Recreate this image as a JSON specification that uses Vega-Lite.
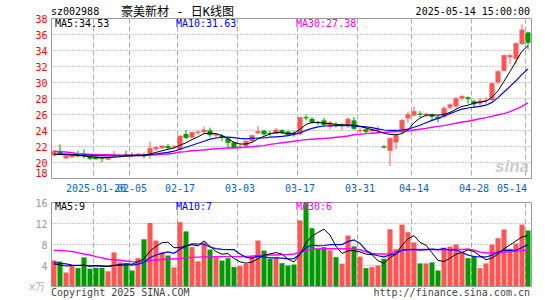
{
"$schema": "https://vega.github.io/schema/vega-lite/v6.json",
"background": "white",
"autosize": {"type": "pad"},
"padding": {"left": 28, "top": 5, "right": 0, "bottom": 0},
"bounds": "flush",
"spacing": 24,
"config": {"view": {"stroke": "#999999", "strokeWidth": 1}, "text": {"font": "DejaVu Sans Mono", "fontSize": 10}},
"datasets": {"k": [
{"date":"2025-01-09","open":20.85,"high":21.55,"low":20.65,"close":21.3,"volume":4.86,"ma5":20.9,"ma10":20.95,"ma30":21.35,"vma5":4.2,"vma10":4.5,"vma30":6.76},
{"date":"2025-01-10","open":21.4,"high":22.2,"low":21.0,"close":21.1,"volume":4.67,"ma5":21.0,"ma10":20.95,"ma30":21.3,"vma5":4.0,"vma10":4.3,"vma30":6.75},
{"date":"2025-01-13","open":20.45,"high":20.8,"low":20.4,"close":20.7,"volume":2.57,"ma5":21.0,"ma10":20.9,"ma30":21.25,"vma5":3.8,"vma10":4.2,"vma30":6.7},
{"date":"2025-01-14","open":20.6,"high":21.0,"low":20.55,"close":20.9,"volume":4.0,"ma5":20.95,"ma10":20.9,"ma30":21.15,"vma5":3.9,"vma10":4.0,"vma30":6.57},
{"date":"2025-01-15","open":20.95,"high":21.4,"low":20.6,"close":20.75,"volume":3.4,"ma5":20.85,"ma10":20.85,"ma30":21.05,"vma5":3.9,"vma10":3.95,"vma30":6.35},
{"date":"2025-01-16","open":21.0,"high":21.6,"low":20.45,"close":20.75,"volume":5.45,"ma5":20.75,"ma10":20.85,"ma30":21.0,"vma5":4.0,"vma10":3.9,"vma30":6.1},
{"date":"2025-01-17","open":20.7,"high":20.8,"low":20.25,"close":20.45,"volume":3.3,"ma5":20.65,"ma10":20.85,"ma30":20.95,"vma5":3.75,"vma10":3.85,"vma30":5.9},
{"date":"2025-01-20","open":20.65,"high":20.75,"low":20.3,"close":20.4,"volume":3.45,"ma5":20.6,"ma10":20.8,"ma30":20.95,"vma5":3.9,"vma10":3.85,"vma30":5.6},
{"date":"2025-01-21","open":20.55,"high":20.65,"low":20.0,"close":20.45,"volume":3.45,"ma5":20.55,"ma10":20.8,"ma30":20.9,"vma5":3.8,"vma10":3.8,"vma30":5.35},
{"date":"2025-01-22","open":20.3,"high":20.65,"low":20.25,"close":20.55,"volume":2.8,"ma5":20.55,"ma10":20.75,"ma30":20.9,"vma5":3.7,"vma10":3.8,"vma30":5.1},
{"date":"2025-01-23","open":20.75,"high":21.4,"low":20.6,"close":20.95,"volume":6.4,"ma5":20.6,"ma10":20.75,"ma30":20.85,"vma5":3.9,"vma10":3.95,"vma30":5.0},
{"date":"2025-01-24","open":20.75,"high":21.0,"low":20.6,"close":20.85,"volume":4.5,"ma5":20.65,"ma10":20.75,"ma30":20.85,"vma5":4.1,"vma10":3.93,"vma30":4.9},
{"date":"2025-01-27","open":21.0,"high":21.4,"low":20.7,"close":20.85,"volume":4.05,"ma5":20.75,"ma10":20.75,"ma30":20.85,"vma5":4.25,"vma10":4.08,"vma30":4.75},
{"date":"2025-02-05","open":20.95,"high":21.2,"low":20.65,"close":20.85,"volume":2.95,"ma5":20.8,"ma10":20.75,"ma30":20.85,"vma5":4.15,"vma10":3.98,"vma30":4.65},
{"date":"2025-02-06","open":20.8,"high":21.1,"low":20.7,"close":21.0,"volume":5.3,"ma5":20.85,"ma10":20.8,"ma30":20.85,"vma5":4.65,"vma10":4.18,"vma30":4.6},
{"date":"2025-02-07","open":21.0,"high":21.15,"low":20.45,"close":20.8,"volume":8.9,"ma5":20.85,"ma10":20.8,"ma30":20.85,"vma5":5.15,"vma10":4.53,"vma30":4.65},
{"date":"2025-02-10","open":20.95,"high":22.5,"low":20.4,"close":21.7,"volume":12.0,"ma5":21.0,"ma10":20.9,"ma30":20.9,"vma5":6.65,"vma10":5.38,"vma30":4.8},
{"date":"2025-02-11","open":21.6,"high":22.0,"low":21.4,"close":21.8,"volume":8.65,"ma5":21.2,"ma10":21.0,"ma30":20.9,"vma5":7.55,"vma10":5.9,"vma30":4.95},
{"date":"2025-02-12","open":21.75,"high":22.05,"low":21.55,"close":22.0,"volume":6.4,"ma5":21.4,"ma10":21.1,"ma30":20.95,"vma5":8.25,"vma10":6.2,"vma30":5.05},
{"date":"2025-02-13","open":22.0,"high":22.25,"low":21.55,"close":21.8,"volume":5.8,"ma5":21.6,"ma10":21.2,"ma30":21.0,"vma5":8.35,"vma10":6.5,"vma30":5.15},
{"date":"2025-02-14","open":21.85,"high":22.1,"low":21.7,"close":21.95,"volume":3.55,"ma5":21.75,"ma10":21.35,"ma30":21.1,"vma5":7.3,"vma10":6.23,"vma30":5.15},
{"date":"2025-02-17","open":21.55,"high":23.3,"low":21.5,"close":23.25,"volume":12.15,"ma5":22.1,"ma10":21.6,"ma30":21.25,"vma5":7.3,"vma10":6.98,"vma30":5.25},
{"date":"2025-02-18","open":23.5,"high":24.0,"low":22.85,"close":23.05,"volume":10.4,"ma5":22.4,"ma10":21.85,"ma30":21.3,"vma5":7.65,"vma10":7.6,"vma30":5.35},
{"date":"2025-02-19","open":23.05,"high":23.75,"low":22.95,"close":23.7,"volume":7.4,"ma5":22.8,"ma10":22.1,"ma30":21.4,"vma5":7.85,"vma10":8.05,"vma30":5.45},
{"date":"2025-02-20","open":23.65,"high":24.0,"low":23.4,"close":23.75,"volume":4.7,"ma5":23.15,"ma10":22.35,"ma30":21.45,"vma5":7.65,"vma10":8.0,"vma30":5.5},
{"date":"2025-02-21","open":23.75,"high":24.4,"low":23.55,"close":24.0,"volume":8.3,"ma5":23.55,"ma10":22.6,"ma30":21.5,"vma5":8.6,"vma10":7.95,"vma30":5.55},
{"date":"2025-02-24","open":23.95,"high":24.3,"low":23.1,"close":23.4,"volume":6.95,"ma5":23.6,"ma10":22.85,"ma30":21.6,"vma5":7.55,"vma10":7.43,"vma30":5.55},
{"date":"2025-02-25","open":23.3,"high":23.6,"low":22.95,"close":23.45,"volume":5.5,"ma5":23.55,"ma10":23.0,"ma30":21.65,"vma5":6.57,"vma10":7.11,"vma30":5.6},
{"date":"2025-02-26","open":23.3,"high":23.5,"low":22.6,"close":23.1,"volume":4.85,"ma5":23.3,"ma10":23.1,"ma30":21.7,"vma5":6.06,"vma10":6.96,"vma30":5.6},
{"date":"2025-02-27","open":22.95,"high":23.1,"low":21.75,"close":22.45,"volume":5.3,"ma5":22.9,"ma10":23.1,"ma30":21.75,"vma5":6.18,"vma10":6.92,"vma30":5.6},
{"date":"2025-02-28","open":22.45,"high":22.55,"low":21.7,"close":21.8,"volume":3.6,"ma5":22.45,"ma10":23.05,"ma30":21.75,"vma5":5.24,"vma10":6.92,"vma30":5.6},
{"date":"2025-03-03","open":21.8,"high":22.3,"low":21.7,"close":21.9,"volume":3.8,"ma5":22.25,"ma10":22.95,"ma30":21.8,"vma5":4.61,"vma10":6.08,"vma30":5.6},
{"date":"2025-03-04","open":22.0,"high":22.65,"low":21.8,"close":22.6,"volume":4.2,"ma5":22.25,"ma10":22.9,"ma30":21.85,"vma5":4.35,"vma10":5.46,"vma30":5.65},
{"date":"2025-03-05","open":22.6,"high":23.35,"low":22.55,"close":23.3,"volume":5.8,"ma5":22.45,"ma10":22.95,"ma30":21.9,"vma5":4.54,"vma10":5.3,"vma30":5.7},
{"date":"2025-03-06","open":23.6,"high":24.5,"low":23.5,"close":23.8,"volume":8.67,"ma5":22.9,"ma10":23.0,"ma30":22.0,"vma5":5.21,"vma10":5.7,"vma30":5.8},
{"date":"2025-03-07","open":23.9,"high":24.05,"low":23.3,"close":23.5,"volume":6.76,"ma5":23.2,"ma10":23.0,"ma30":22.05,"vma5":5.85,"vma10":5.55,"vma30":5.85},
{"date":"2025-03-10","open":23.65,"high":23.9,"low":23.3,"close":23.55,"volume":5.17,"ma5":23.5,"ma10":23.1,"ma30":22.2,"vma5":6.12,"vma10":5.37,"vma30":5.9},
{"date":"2025-03-11","open":23.5,"high":24.25,"low":23.45,"close":24.0,"volume":5.4,"ma5":23.7,"ma10":23.15,"ma30":22.3,"vma5":6.36,"vma10":5.36,"vma30":5.9},
{"date":"2025-03-12","open":24.0,"high":24.1,"low":23.5,"close":23.7,"volume":4.35,"ma5":23.65,"ma10":23.2,"ma30":22.4,"vma5":6.07,"vma10":5.31,"vma30":5.95},
{"date":"2025-03-13","open":23.8,"high":23.95,"low":23.2,"close":23.4,"volume":3.9,"ma5":23.55,"ma10":23.3,"ma30":22.5,"vma5":5.12,"vma10":5.17,"vma30":6.0},
{"date":"2025-03-14","open":23.6,"high":23.9,"low":23.15,"close":23.5,"volume":4.1,"ma5":23.6,"ma10":23.45,"ma30":22.6,"vma5":4.58,"vma10":5.22,"vma30":6.1},
{"date":"2025-03-17","open":23.45,"high":25.6,"low":23.35,"close":25.55,"volume":12.5,"ma5":24.1,"ma10":23.65,"ma30":22.7,"vma5":6.05,"vma10":6.09,"vma30":6.4},
{"date":"2025-03-18","open":25.6,"high":25.9,"low":25.2,"close":25.5,"volume":16.0,"ma5":24.7,"ma10":23.95,"ma30":22.8,"vma5":8.21,"vma10":7.29,"vma30":6.8},
{"date":"2025-03-19","open":25.4,"high":25.6,"low":24.75,"close":25.0,"volume":11.0,"ma5":24.95,"ma10":24.2,"ma30":22.85,"vma5":9.54,"vma10":7.81,"vma30":7.0},
{"date":"2025-03-20","open":25.0,"high":25.15,"low":24.6,"close":24.9,"volume":7.1,"ma5":24.95,"ma10":24.4,"ma30":22.9,"vma5":10.18,"vma10":7.65,"vma30":7.05},
{"date":"2025-03-21","open":25.2,"high":25.5,"low":24.35,"close":24.65,"volume":7.4,"ma5":24.85,"ma10":24.5,"ma30":22.95,"vma5":10.84,"vma10":7.71,"vma30":7.1},
{"date":"2025-03-24","open":24.45,"high":25.1,"low":24.1,"close":24.9,"volume":6.8,"ma5":24.8,"ma10":24.5,"ma30":23.0,"vma5":9.7,"vma10":7.88,"vma30":7.1},
{"date":"2025-03-25","open":24.75,"high":25.0,"low":24.3,"close":24.65,"volume":5.5,"ma5":24.7,"ma10":24.55,"ma30":23.1,"vma5":7.56,"vma10":7.89,"vma30":7.1},
{"date":"2025-03-26","open":24.5,"high":24.85,"low":24.0,"close":24.6,"volume":4.25,"ma5":24.65,"ma10":24.55,"ma30":23.15,"vma5":6.21,"vma10":7.88,"vma30":7.1},
{"date":"2025-03-27","open":24.7,"high":25.6,"low":24.25,"close":25.35,"volume":9.6,"ma5":24.65,"ma10":24.55,"ma30":23.25,"vma5":6.71,"vma10":8.45,"vma30":7.1},
{"date":"2025-03-28","open":25.2,"high":25.6,"low":24.0,"close":24.2,"volume":7.55,"ma5":24.6,"ma10":24.5,"ma30":23.4,"vma5":6.74,"vma10":8.79,"vma30":7.05},
{"date":"2025-03-31","open":23.85,"high":24.3,"low":23.3,"close":23.95,"volume":5.6,"ma5":24.45,"ma10":24.45,"ma30":23.45,"vma5":6.5,"vma10":8.1,"vma30":6.9},
{"date":"2025-04-01","open":24.1,"high":24.2,"low":23.6,"close":23.8,"volume":3.4,"ma5":24.25,"ma10":24.4,"ma30":23.55,"vma5":6.08,"vma10":6.82,"vma30":6.5},
{"date":"2025-04-02","open":23.85,"high":24.15,"low":23.75,"close":24.05,"volume":3.6,"ma5":24.05,"ma10":24.3,"ma30":23.6,"vma5":5.95,"vma10":6.08,"vma30":6.2},
{"date":"2025-04-03","open":23.95,"high":24.5,"low":23.75,"close":24.05,"volume":3.9,"ma5":23.85,"ma10":24.15,"ma30":23.65,"vma5":4.81,"vma10":5.76,"vma30":6.1},
{"date":"2025-04-07","open":21.95,"high":22.1,"low":21.7,"close":21.85,"volume":5.2,"ma5":23.6,"ma10":24.0,"ma30":23.7,"vma5":4.34,"vma10":5.54,"vma30":6.1},
{"date":"2025-04-08","open":21.4,"high":23.05,"low":19.5,"close":22.95,"volume":10.8,"ma5":23.45,"ma10":23.95,"ma30":23.75,"vma5":5.38,"vma10":5.94,"vma30":6.15},
{"date":"2025-04-09","open":22.45,"high":23.5,"low":21.6,"close":23.3,"volume":7.0,"ma5":23.4,"ma10":23.95,"ma30":23.8,"vma5":6.1,"vma10":6.09,"vma30":6.5},
{"date":"2025-04-10","open":23.7,"high":25.35,"low":23.5,"close":25.2,"volume":11.7,"ma5":23.55,"ma10":24.0,"ma30":23.85,"vma5":7.72,"vma10":6.84,"vma30":6.8},
{"date":"2025-04-11","open":25.45,"high":26.3,"low":24.9,"close":25.9,"volume":10.25,"ma5":24.0,"ma10":24.1,"ma30":23.9,"vma5":8.99,"vma10":6.9,"vma30":6.95},
{"date":"2025-04-14","open":25.8,"high":26.9,"low":25.7,"close":26.3,"volume":8.3,"ma5":24.9,"ma10":24.35,"ma30":24.0,"vma5":9.61,"vma10":6.98,"vma30":6.95},
{"date":"2025-04-15","open":26.05,"high":26.35,"low":25.6,"close":25.95,"volume":4.3,"ma5":25.5,"ma10":24.6,"ma30":24.1,"vma5":8.31,"vma10":6.85,"vma30":6.95},
{"date":"2025-04-16","open":25.9,"high":26.1,"low":25.6,"close":26.0,"volume":4.3,"ma5":25.85,"ma10":24.9,"ma30":24.2,"vma5":7.77,"vma10":6.94,"vma30":6.95},
{"date":"2025-04-17","open":25.9,"high":26.05,"low":25.2,"close":25.7,"volume":4.5,"ma5":25.9,"ma10":25.2,"ma30":24.35,"vma5":6.33,"vma10":7.03,"vma30":6.95},
{"date":"2025-04-18","open":25.65,"high":25.8,"low":24.95,"close":25.45,"volume":2.95,"ma5":25.85,"ma10":25.45,"ma30":24.45,"vma5":4.87,"vma10":6.93,"vma30":6.9},
{"date":"2025-04-21","open":25.65,"high":27.0,"low":25.5,"close":26.7,"volume":7.3,"ma5":25.95,"ma10":25.75,"ma30":24.55,"vma5":4.67,"vma10":7.14,"vma30":6.9},
{"date":"2025-04-22","open":26.8,"high":27.3,"low":26.6,"close":27.15,"volume":7.5,"ma5":26.2,"ma10":26.05,"ma30":24.7,"vma5":5.31,"vma10":6.81,"vma30":6.9},
{"date":"2025-04-23","open":26.95,"high":28.15,"low":26.7,"close":27.9,"volume":7.9,"ma5":26.6,"ma10":26.35,"ma30":24.85,"vma5":6.03,"vma10":6.9,"vma30":6.95},
{"date":"2025-04-24","open":27.95,"high":28.35,"low":27.65,"close":28.2,"volume":6.4,"ma5":26.95,"ma10":26.6,"ma30":25.0,"vma5":6.41,"vma10":6.37,"vma30":6.95},
{"date":"2025-04-25","open":28.1,"high":28.2,"low":27.3,"close":27.9,"volume":5.3,"ma5":27.1,"ma10":26.75,"ma30":25.1,"vma5":6.88,"vma10":5.88,"vma30":7.05},
{"date":"2025-04-28","open":27.6,"high":27.8,"low":26.85,"close":27.25,"volume":5.7,"ma5":27.35,"ma10":26.85,"ma30":25.25,"vma5":6.56,"vma10":5.62,"vma30":6.8},
{"date":"2025-04-29","open":27.3,"high":28.0,"low":27.0,"close":27.6,"volume":3.4,"ma5":27.5,"ma10":26.95,"ma30":25.4,"vma5":5.74,"vma10":5.53,"vma30":6.45},
{"date":"2025-04-30","open":27.6,"high":28.1,"low":27.3,"close":27.7,"volume":4.3,"ma5":27.6,"ma10":27.1,"ma30":25.55,"vma5":5.02,"vma10":5.53,"vma30":6.3},
{"date":"2025-05-06","open":27.75,"high":29.95,"low":27.6,"close":29.8,"volume":7.9,"ma5":28.1,"ma10":27.45,"ma30":25.7,"vma5":5.32,"vma10":5.87,"vma30":6.3},
{"date":"2025-05-07","open":29.95,"high":31.45,"low":29.75,"close":31.3,"volume":9.1,"ma5":28.9,"ma10":28.05,"ma30":25.9,"vma5":6.08,"vma10":6.48,"vma30":6.3},
{"date":"2025-05-08","open":31.4,"high":33.4,"low":31.3,"close":33.3,"volume":10.76,"ma5":30.1,"ma10":28.75,"ma30":26.05,"vma5":7.09,"vma10":6.83,"vma30":6.45},
{"date":"2025-05-09","open":33.1,"high":33.55,"low":32.2,"close":33.3,"volume":7.1,"ma5":31.3,"ma10":29.45,"ma30":26.3,"vma5":7.83,"vma10":6.79,"vma30":6.55},
{"date":"2025-05-12","open":32.9,"high":34.95,"low":32.2,"close":34.8,"volume":8.1,"ma5":32.6,"ma10":30.15,"ma30":26.6,"vma5":8.59,"vma10":6.81,"vma30":6.6},
{"date":"2025-05-13","open":34.75,"high":37.2,"low":34.6,"close":36.5,"volume":11.7,"ma5":33.85,"ma10":30.95,"ma30":26.95,"vma5":9.35,"vma10":7.34,"vma30":6.75},
{"date":"2025-05-14","open":36.2,"high":36.3,"low":34.1,"close":34.95,"volume":10.57,"ma5":34.53,"ma10":31.63,"ma30":27.38,"vma5":9.65,"vma10":7.87,"vma30":6.88}
]},
"vconcat": [
{
"width": 480, "height": 160,
"data": {"name": "k"},
"layer": [
{"mark": {"type": "rule", "strokeWidth": 1},
 "encoding": {
  "x": {"field": "date", "type": "ordinal", "title": null, "scale": {"paddingInner": 0, "paddingOuter": 0},
   "axis": {"values": ["2025-01-20","2025-02-05","2025-02-17","2025-03-03","2025-03-17","2025-03-31","2025-04-14","2025-04-28","2025-05-14"],
    "labelExpr": "datum.value == '2025-01-20' ? datum.value : slice(datum.value, 5)",
    "bandPosition": 0, "labelAngle": 0, "labelColor": "#0066CC", "labelFont": "DejaVu Sans Mono", "labelFontSize": 10,
    "labelPadding": 5, "labelOverlap": false, "labelFlush": false,
    "labelOffset": {"condition": {"test": "datum.value == '2025-05-14'", "value": -16}, "value": 0},
    "ticks": false, "domain": false,
    "grid": true, "gridDash": [5, 3], "gridColor": "#aaaaaa", "gridWidth": 1}},
  "y": {"field": "low", "type": "quantitative", "title": null, "scale": {"domain": [18, 38], "nice": false, "zero": false},
   "axis": {"values": [18,20,22,24,26,28,30,32,34,36,38], "tickCount": 20, "labelColor": "#FF0000", "labelFont": "DejaVu Sans Mono", "labelFontSize": 10,
    "labelPadding": 4, "labelOverlap": false, "ticks": false, "domain": false, "grid": true, "gridDash": [1, 2], "gridColor": "#999999",
    "labelOffset": {"condition": {"test": "datum.value == 18", "value": -5}, "value": 1}}},
  "y2": {"field": "high"},
  "color": {"condition": {"test": "datum.close >= datum.open", "value": "#FF5555"}, "value": "#009900"}
 }},
{"mark": {"type": "bar", "width": {"band": 0.84}},
 "encoding": {
  "x": {"field": "date", "type": "ordinal", "title": null},
  "y": {"field": "open", "type": "quantitative", "title": null},
  "y2": {"field": "close"},
  "color": {"condition": {"test": "datum.close >= datum.open", "value": "#FF5555"}, "value": "#009900"}
 }},
{"mark": {"type": "tick", "thickness": 1, "size": 5},
 "encoding": {
  "x": {"field": "date", "type": "ordinal", "title": null},
  "y": {"field": "close", "type": "quantitative", "title": null},
  "color": {"condition": {"test": "datum.close >= datum.open", "value": "#FF5555"}, "value": "#009900"}
 }},
{"mark": {"type": "line", "color": "#FF00FF", "strokeWidth": 1.4},
 "encoding": {"x": {"field": "date", "type": "ordinal", "title": null}, "y": {"field": "ma30", "type": "quantitative", "title": null}}},
{"mark": {"type": "line", "color": "#0000FF", "strokeWidth": 1.2},
 "encoding": {"x": {"field": "date", "type": "ordinal", "title": null}, "y": {"field": "ma10", "type": "quantitative", "title": null}}},
{"mark": {"type": "line", "color": "#000000", "strokeWidth": 1},
 "encoding": {"x": {"field": "date", "type": "ordinal", "title": null}, "y": {"field": "ma5", "type": "quantitative", "title": null}}},
{"data": {"values": [{}]},
 "mark": {"type": "text", "align": "right", "baseline": "middle", "font": "Liberation Sans", "fontSize": 17, "fontWeight": "bold", "fontStyle": "italic", "color": "#cccccc", "dx": 4},
 "encoding": {"x": {"datum": "2025-05-14", "type": "ordinal", "bandPosition": 0}, "y": {"datum": 19.4, "type": "quantitative"}, "text": {"value": "sina"}}},
{"data": {"values": [{}]},
 "mark": {"type": "text", "align": "left", "baseline": "middle", "font": "DejaVu Sans Mono", "fontSize": 10, "color": "#000000"},
 "encoding": {"x": {"datum": "2025-01-09", "type": "ordinal", "bandPosition": 0}, "y": {"datum": 38.72, "type": "quantitative"}, "text": {"value": "sz002988"}}},
{"data": {"values": [{}]},
 "mark": {"type": "text", "align": "left", "baseline": "middle", "font": "DejaVu Sans Mono, Noto Sans CJK SC", "fontSize": 12, "color": "#000000", "dx": -2},
 "encoding": {"x": {"datum": "2025-01-27", "type": "ordinal", "bandPosition": 0}, "y": {"datum": 38.72, "type": "quantitative"}, "text": {"value": "豪美新材 - 日K线图"}}},
{"data": {"values": [{}]},
 "mark": {"type": "text", "align": "right", "baseline": "middle", "font": "DejaVu Sans Mono", "fontSize": 10, "color": "#000000", "dx": -1},
 "encoding": {"x": {"datum": "2025-05-14", "type": "ordinal", "bandPosition": 1}, "y": {"datum": 38.72, "type": "quantitative"}, "text": {"value": "2025-05-14 15:00:00"}}},
{"data": {"values": [{}]},
 "mark": {"type": "text", "align": "left", "baseline": "middle", "font": "DejaVu Sans Mono", "fontSize": 10, "color": "#000000", "dx": 4},
 "encoding": {"x": {"datum": "2025-01-09", "type": "ordinal", "bandPosition": 0}, "y": {"datum": 37.25, "type": "quantitative"}, "text": {"value": "MA5:34.53"}}},
{"data": {"values": [{}]},
 "mark": {"type": "text", "align": "left", "baseline": "middle", "font": "DejaVu Sans Mono", "fontSize": 10, "color": "#0000FF", "dx": -1},
 "encoding": {"x": {"datum": "2025-02-17", "type": "ordinal", "bandPosition": 0}, "y": {"datum": 37.25, "type": "quantitative"}, "text": {"value": "MA10:31.63"}}},
{"data": {"values": [{}]},
 "mark": {"type": "text", "align": "left", "baseline": "middle", "font": "DejaVu Sans Mono", "fontSize": 10, "color": "#FF00FF", "dx": -1},
 "encoding": {"x": {"datum": "2025-03-17", "type": "ordinal", "bandPosition": 0}, "y": {"datum": 37.25, "type": "quantitative"}, "text": {"value": "MA30:27.38"}}}
]
},
{
"width": 480, "height": 84,
"data": {"name": "k"},
"layer": [
{"mark": {"type": "bar", "width": {"band": 0.84}},
 "encoding": {
  "x": {"field": "date", "type": "ordinal", "title": null, "scale": {"paddingInner": 0, "paddingOuter": 0},
   "axis": {"values": ["2025-01-20","2025-02-05","2025-02-17","2025-03-03","2025-03-17","2025-03-31","2025-04-14","2025-04-28","2025-05-14"],
    "bandPosition": 0, "labels": false, "ticks": false, "domain": false,
    "grid": true, "gridDash": [5, 3], "gridColor": "#aaaaaa", "gridWidth": 1}},
  "y": {"field": "volume", "type": "quantitative", "title": null, "scale": {"domain": [0, 16], "nice": false},
   "axis": {"values": [4, 8, 12, 16], "tickCount": 10, "labelColor": "#999999", "labelFont": "DejaVu Sans Mono", "labelFontSize": 10,
    "labelPadding": 4, "labelOffset": 1, "labelOverlap": false, "ticks": false, "domain": false, "grid": true, "gridDash": [1, 2], "gridColor": "#999999"}},
  "color": {"condition": {"test": "datum.close >= datum.open", "value": "#FF5555"}, "value": "#009900"}
 }},
{"mark": {"type": "line", "color": "#FF00FF", "strokeWidth": 1.4},
 "encoding": {"x": {"field": "date", "type": "ordinal", "title": null}, "y": {"field": "vma30", "type": "quantitative", "title": null}}},
{"mark": {"type": "line", "color": "#0000FF", "strokeWidth": 1.2},
 "encoding": {"x": {"field": "date", "type": "ordinal", "title": null}, "y": {"field": "vma10", "type": "quantitative", "title": null}}},
{"mark": {"type": "line", "color": "#000000", "strokeWidth": 1},
 "encoding": {"x": {"field": "date", "type": "ordinal", "title": null}, "y": {"field": "vma5", "type": "quantitative", "title": null}}},
{"data": {"values": [{}]},
 "mark": {"type": "text", "align": "left", "baseline": "middle", "font": "DejaVu Sans Mono", "fontSize": 10, "color": "#000000", "dx": 4},
 "encoding": {"x": {"datum": "2025-01-09", "type": "ordinal", "bandPosition": 0}, "y": {"datum": 15.1, "type": "quantitative"}, "text": {"value": "MA5:9"}}},
{"data": {"values": [{}]},
 "mark": {"type": "text", "align": "left", "baseline": "middle", "font": "DejaVu Sans Mono", "fontSize": 10, "color": "#0000FF", "dx": -1},
 "encoding": {"x": {"datum": "2025-02-17", "type": "ordinal", "bandPosition": 0}, "y": {"datum": 15.1, "type": "quantitative"}, "text": {"value": "MA10:7"}}},
{"data": {"values": [{}]},
 "mark": {"type": "text", "align": "left", "baseline": "middle", "font": "DejaVu Sans Mono", "fontSize": 10, "color": "#FF00FF", "dx": -1},
 "encoding": {"x": {"datum": "2025-03-17", "type": "ordinal", "bandPosition": 0}, "y": {"datum": 15.1, "type": "quantitative"}, "text": {"value": "MA30:6"}}},
{"data": {"values": [{}]},
 "mark": {"type": "text", "align": "left", "baseline": "middle", "font": "DejaVu Sans Mono", "fontSize": 10, "color": "#444444"},
 "encoding": {"x": {"datum": "2025-01-09", "type": "ordinal", "bandPosition": 0}, "y": {"datum": -1.27, "type": "quantitative"}, "text": {"value": "Copyright 2025 SINA.COM"}}},
{"data": {"values": [{}]},
 "mark": {"type": "text", "align": "right", "baseline": "middle", "font": "DejaVu Sans Mono", "fontSize": 10, "color": "#444444", "dx": -1},
 "encoding": {"x": {"datum": "2025-05-14", "type": "ordinal", "bandPosition": 1}, "y": {"datum": -1.27, "type": "quantitative"}, "text": {"value": "http://finance.sina.com.cn"}}},
{"data": {"values": [{}]},
 "mark": {"type": "text", "align": "right", "baseline": "middle", "font": "DejaVu Sans Mono", "fontSize": 10, "color": "#aaaaaa", "dx": -6},
 "encoding": {"x": {"datum": "2025-01-09", "type": "ordinal", "bandPosition": 0}, "y": {"datum": -0.1, "type": "quantitative"}, "text": {"value": "x万"}}}
]
}
]
}
